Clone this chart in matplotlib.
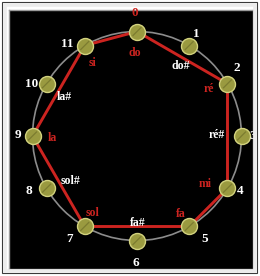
import numpy as np
import matplotlib
matplotlib.use('Agg')
import matplotlib.pyplot as plt
from matplotlib.patches import Circle, Rectangle

W, H = 260, 276

# data: the 12 pitch classes, their names, and the major scale on do
pitch_classes = list(range(12))
note_names = ['do', 'do#', 'ré', 'ré#', 'mi', 'fa', 'fa#', 'sol', 'sol#', 'la', 'la#', 'si']
major_scale = [0, 2, 4, 5, 7, 9, 11]

# layout (pixels, y downward)
cx, cy, r = 137, 136, 104.5
num_off = [(-2, -19), (7, -12), (9, -16), (11, 0), (13, 3), (15, 13),
           (-1, 22), (-15, 13), (-18, 3), (-15, -1), (-15, 0), (-17, -2)]
name_off = [(-2, 22), (-9, 20), (-19, 5), (-25, -1), (-22, -4), (-8, -12),
            (1, -17), (8, -13), (24, -7), (20, 2), (18, 13), (8, 17)]

RED = '#cc2420'
SERIF = 'Liberation Serif'

fig = plt.figure(figsize=(W / 100, H / 100), dpi=100, facecolor='white')

# outer frame: thin dark line, white band
fig.patches.append(Rectangle((2 / W, 3 / H), 255 / W, 271 / H, transform=fig.transFigure,
                             facecolor='none', edgecolor='#3a3a3a', linewidth=0.8))
fig.patches.append(Rectangle((5 / W, 5.5 / H), 250 / W, 266 / H, transform=fig.transFigure,
                             facecolor='none', edgecolor='#ececec', linewidth=2.6))

ax = fig.add_axes([9 / W, 7 / H, 244 / W, 259 / H])
ax.set_facecolor('black')
ax.set_xlim(9, 253)
ax.set_ylim(269, 10)
ax.set_xticks([]); ax.set_yticks([])
for s in ax.spines.values():
    s.set_color('#9a9a9a'); s.set_linewidth(1.0)

ang = np.radians(30 * np.array(pitch_classes))
xs = cx + r * np.sin(ang)
ys = cy - r * np.cos(ang)

# gray circle
ax.add_patch(Circle((cx, cy), r, facecolor='none', edgecolor='#8c8c8c', linewidth=1.2, zorder=1))

# red polygon of the scale
loop = major_scale + [major_scale[0]]
ax.plot(xs[loop], ys[loop], color=RED, linewidth=2.1, zorder=2, solid_capstyle='round')

# nodes
ax.plot(xs, ys, 'o', markersize=11.5, markerfacecolor='#9a9a40', markeredgecolor='#d2d27e',
        markeredgewidth=1.0, linestyle='none', zorder=3)
for x, y in zip(xs, ys):
    ax.plot([x - 4, x + 4], [y + 4, y - 4], color='#7c7c30', linewidth=0.9, zorder=4)

for k in pitch_classes:
    col = RED if k == 0 else 'white'
    dx, dy = num_off[k]
    ax.text(xs[k] + dx, ys[k] + dy, str(k), color=col, fontsize=9.5, fontweight='bold',
            family=SERIF, ha='center', va='center', zorder=5)
    ncol = RED if k in major_scale else 'white'
    dx, dy = name_off[k]
    ax.text(xs[k] + dx, ys[k] + dy, note_names[k], color=ncol, fontsize=8.5, fontweight='bold',
            family=SERIF, ha='center', va='center', zorder=5)

fig.savefig('out.png', dpi=100, facecolor='white')
